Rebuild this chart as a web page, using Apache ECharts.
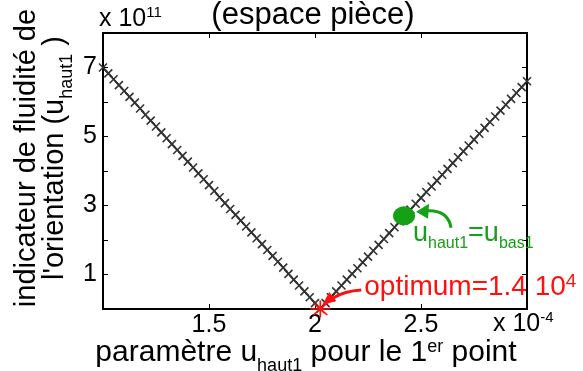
<!DOCTYPE html>
<html>
<head>
<meta charset="utf-8">
<script src="https://cdn.jsdelivr.net/npm/echarts@6/dist/echarts.min.js"></script>
<style>
  html, body { margin: 0; padding: 0; background: #fff; }
  #chart { width: 583px; height: 371px; }
</style>
</head>
<body>
<div id="chart"></div>
<script>
// parameter u_haut1 (× 1e-4)
const paramValues = [
  1.000, 1.025, 1.050, 1.075, 1.100, 1.125, 1.150, 1.175, 1.200, 1.225,
  1.250, 1.275, 1.300, 1.325, 1.350, 1.375, 1.400, 1.425, 1.450, 1.475,
  1.500, 1.525, 1.550, 1.575, 1.600, 1.625, 1.650, 1.675, 1.700, 1.725,
  1.750, 1.775, 1.800, 1.825, 1.850, 1.875, 1.900, 1.925, 1.950, 1.975,
  2.000, 2.025, 2.050, 2.075, 2.100, 2.125, 2.150, 2.175, 2.200, 2.225,
  2.250, 2.275, 2.300, 2.325, 2.350, 2.375, 2.400, 2.425, 2.450, 2.475,
  2.500, 2.525, 2.550, 2.575, 2.600, 2.625, 2.650, 2.675, 2.700, 2.725,
  2.750, 2.775, 2.800, 2.825, 2.850, 2.875, 2.900, 2.925, 2.950, 2.975,
  3.000
];
// orientation smoothness indicator (× 1e11)
const indicatorValues = [
  7.00, 6.83, 6.66, 6.49, 6.32, 6.15, 5.98, 5.81, 5.63, 5.46,
  5.29, 5.12, 4.95, 4.78, 4.61, 4.44, 4.27, 4.10, 3.93, 3.76,
  3.59, 3.42, 3.24, 3.07, 2.90, 2.73, 2.56, 2.39, 2.22, 2.05,
  1.88, 1.71, 1.54, 1.37, 1.20, 1.02, 0.85, 0.68, 0.51, 0.34,
  0.17, 0.00000014, 0.17, 0.34, 0.51, 0.68, 0.85, 1.02, 1.18, 1.35,
  1.52, 1.69, 1.86, 2.03, 2.20, 2.37, 2.54, 2.71, 2.88, 3.05,
  3.22, 3.39, 3.55, 3.72, 3.89, 4.06, 4.23, 4.40, 4.57, 4.74,
  4.91, 5.08, 5.25, 5.42, 5.58, 5.75, 5.92, 6.09, 6.26, 6.43,
  6.60
];
// optimum: 1.4e4 expressed in units of 1e11
const optimumPoint = [2.025, 1.4e4 / 1e11];
// point where u_haut1 = u_bas1
const equalPoint = [2.42, 2.70];

const xTickLabels = ['1.5', '2', '2.5'];
const yTickLabels = ['1', '3', '5', '7'];

const FONT = 'Liberation Sans';
const RED = '#ff1010';
const GREEN = '#16a016';

const chart = echarts.init(document.getElementById('chart'), null, { renderer: 'canvas' });

const axisLine = { show: true, onZero: false, lineStyle: { color: '#000', width: 2 } };
const axisTick = { show: true, inside: true, length: 5, lineStyle: { color: '#000', width: 1 } };

const option = {
  animation: false,
  backgroundColor: '#fff',
  grid: { left: 103, right: 56, top: 33, bottom: 62, containLabel: false, outerBoundsMode: 'none' },
  xAxis: [
    {
      type: 'value', min: 1, max: 3, interval: 0.5, position: 'bottom',
      axisLine, axisTick, splitLine: { show: false },
      axisLabel: {
        show: true, margin: 4, color: '#000', fontFamily: FONT, fontSize: 25,
        showMinLabel: true, showMaxLabel: true,
        formatter: v => (xTickLabels.includes(String(v)) ? String(v) : '')
      }
    },
    {
      type: 'value', min: 1, max: 3, interval: 0.5, position: 'top',
      axisLine, axisTick, splitLine: { show: false }, axisLabel: { show: false }
    }
  ],
  yAxis: [
    {
      type: 'value', min: 0, max: 8, interval: 1, position: 'left',
      axisLine, axisTick, splitLine: { show: false },
      axisLabel: {
        show: true, margin: 6, color: '#000', fontFamily: FONT, fontSize: 25,
        formatter: v => (yTickLabels.includes(String(v)) ? String(v) : '')
      }
    },
    {
      type: 'value', min: 0, max: 8, interval: 1, position: 'right',
      axisLine, axisTick, splitLine: { show: false }, axisLabel: { show: false }
    }
  ],
  series: [
    {
      type: 'line',
      data: paramValues.map((x, i) => [x, indicatorValues[i]]),
      symbol: 'path://M0 0L10 10M10 0L0 10',
      symbolSize: 8,
      showSymbol: true,
      lineStyle: { color: '#000', width: 1.6 },
      itemStyle: { color: '#333', borderColor: '#333', borderWidth: 1.6, opacity: 1 },
      clip: false,
      z: 2
    },
    {
      type: 'scatter',
      data: [optimumPoint],
      symbol: 'path://M5 0L5 10M0 5L10 5M1.5 1.5L8.5 8.5M8.5 1.5L1.5 8.5',
      symbolSize: [20, 17],
      itemStyle: { color: RED, borderColor: RED, borderWidth: 1.6, opacity: 1 },
      clip: false,
      z: 5
    },
    {
      type: 'scatter',
      data: [equalPoint],
      symbol: 'circle',
      symbolSize: [22, 19],
      itemStyle: { color: GREEN, opacity: 1 },
      clip: false,
      z: 5
    }
  ]
};
chart.setOption(option);

// Rich text helpers for sub/superscripts
function shiftedStyle(size, pad, color) {
  return { fontSize: size, fontFamily: FONT, fill: color, verticalAlign: 'top', padding: [pad, 0, 0, 0] };
}

const S = chart.convertToPixel({ gridIndex: 0 }, optimumPoint);
const G = chart.convertToPixel({ gridIndex: 0 }, equalPoint);

function arrowHead(tip, base1, base2, color) {
  return { type: 'polygon', shape: { points: [tip, base1, base2] }, style: { fill: color }, z: 20 };
}

chart.setOption({
  graphic: [
    // title
    {
      type: 'text', x: 313, y: 15, z: 10,
      style: { text: '(espace pièce)', fontSize: 31, fontFamily: FONT, fill: '#000', align: 'center', verticalAlign: 'middle' }
    },
    // y scale factor
    {
      type: 'text', x: 99, y: 19, z: 10,
      style: {
        text: 'x 10{sup|11}', fontSize: 25, fontFamily: FONT, fill: '#000', lineHeight: 28,
        align: 'left', verticalAlign: 'middle',
        rich: { sup: shiftedStyle(15, 0, '#000') }
      }
    },
    // x scale factor
    {
      type: 'text', x: 493, y: 324, z: 10,
      style: {
        text: 'x 10{sup|-4}', fontSize: 25, fontFamily: FONT, fill: '#000', lineHeight: 28,
        align: 'left', verticalAlign: 'middle',
        rich: { sup: shiftedStyle(15, 0, '#000') }
      }
    },
    // x axis title
    {
      type: 'text', x: 306, y: 353, z: 10,
      style: {
        text: 'paramètre u{sub|haut1} pour le 1{sup|er} point', fontSize: 30, fontFamily: FONT, fill: '#000',
        lineHeight: 30, align: 'center', verticalAlign: 'middle',
        rich: { sub: shiftedStyle(18, 19, '#000'), sup: shiftedStyle(18, 0, '#000') }
      }
    },
    // y axis title (two lines, rotated)
    {
      type: 'text', x: 41, y: 158, rotation: Math.PI / 2, z: 10,
      style: {
        text: 'indicateur de fluidité de\nl\'orientation (u{sub|haut1} )', fontSize: 29, fontFamily: FONT, fill: '#000',
        lineHeight: 28, align: 'center', verticalAlign: 'middle',
        rich: { sub: shiftedStyle(18, 17, '#000') }
      }
    },
    // optimum annotation
    {
      type: 'text', x: S[0] + 44, y: S[1] - 22, z: 10,
      style: {
        text: 'optimum=1.4 10{sup|4}', fontSize: 28, fontFamily: FONT, fill: RED,
        lineHeight: 30, align: 'left', verticalAlign: 'middle',
        rich: { sup: shiftedStyle(19, 0, RED) }
      }
    },
    {
      type: 'bezierCurve', z: 20,
      shape: { x1: S[0] + 41, y1: S[1] - 19, cpx1: S[0] + 24, cpy1: S[1] - 18, x2: S[0] + 13, y2: S[1] - 11 },
      style: { stroke: RED, lineWidth: 3, fill: null }
    },
    arrowHead([S[0] + 2, S[1] - 4], [S[0] + 9, S[1] - 17], [S[0] + 16, S[1] - 8], RED),
    // u_haut1 = u_bas1 annotation
    {
      type: 'text', x: G[0] + 9, y: G[1] + 18, z: 10,
      style: {
        text: 'u{sub|haut1}=u{sub|bas1}', fontSize: 27, fontFamily: FONT, fill: GREEN,
        lineHeight: 30, align: 'left', verticalAlign: 'middle',
        rich: { sub: shiftedStyle(16, 17, GREEN) }
      }
    },
    {
      type: 'bezierCurve', z: 20,
      shape: { x1: G[0] + 47, y1: G[1] + 12, cpx1: G[0] + 44, cpy1: G[1] - 6, x2: G[0] + 23, y2: G[1] - 5 },
      style: { stroke: GREEN, lineWidth: 3, fill: null }
    },
    arrowHead([G[0] + 12, G[1] - 4], [G[0] + 25, G[1] - 12], [G[0] + 24, G[1] + 3], GREEN)
  ]
});
</script>
</body>
</html>
